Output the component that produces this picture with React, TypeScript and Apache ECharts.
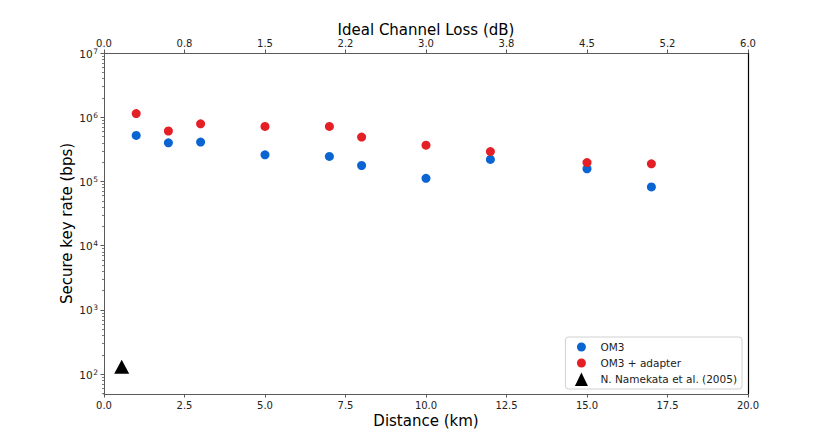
import React, { useEffect, useRef } from "react";
import * as echarts from "echarts";

// Distance (km) for each measurement
const distances = [1, 2, 3, 5, 7, 8, 10, 12, 15, 17];
// Secure key rate (bps), OM3 fibre
const om3Rates = [5.2e5, 4.0e5, 4.1e5, 2.6e5, 2.45e5, 1.77e5, 1.12e5, 2.2e5, 1.57e5, 8.2e4];
// Secure key rate (bps), OM3 + adapter
const om3AdapterRates = [1.14e6, 6.1e5, 7.9e5, 7.2e5, 7.2e5, 4.9e5, 3.67e5, 2.92e5, 1.97e5, 1.88e5];
// Reference point: N. Namekata et al. (2005)
const namekataPoint = [0.55, 130];

const seriesNames = ["OM3", "OM3 + adapter", "N. Namekata et al. (2005)"];
const topTickLabels = ["0.0", "0.8", "1.5", "2.2", "3.0", "3.8", "4.5", "5.2", "6.0"];
const yMajorTicks = [100, 1e3, 1e4, 1e5, 1e6, 1e7];
const yMajorExponents = ["2", "3", "4", "5", "6", "7"];
const yMinorTicks: number[] = [];
for (let e = 1; e < 7; e++) {
  for (let m = 2; m <= 9; m++) {
    const v = m * Math.pow(10, e);
    if (v > 49) yMinorTicks.push(v);
  }
}

const FONT = "DejaVu Sans";
const SPINE = "#5a5a5a";
const LABEL = "#222";

export default function App() {
  const ref = useRef<HTMLDivElement>(null);
  useEffect(() => {
    document.body.style.margin = "0";
    if (!ref.current) return;
    const chart = echarts.init(ref.current, undefined, { renderer: "svg" });
    const circleIcon = "path://M0,0M28,14M9.5,7a4.5,4.5 0 1,0 9,0a4.5,4.5 0 1,0 -9,0Z";
    const triIcon = "path://M0,0M28,14M7.5,14L14,0.5L20.5,14Z";
    chart.setOption({
      animation: false,
      textStyle: { fontFamily: FONT },
      grid: { left: 104, right: 82, top: 53, bottom: 49 },
      legend: {
        orient: "vertical",
        right: 88,
        bottom: 54,
        itemWidth: 28,
        itemHeight: 14,
        itemGap: 2,
        padding: [3, 5, 3, 2],
        borderColor: "#d0d0d0",
        borderWidth: 1,
        borderRadius: 3,
        backgroundColor: "rgba(255,255,255,0.8)",
        textStyle: { fontFamily: FONT, fontSize: 10.5, color: "#222" },
        data: [
          { name: seriesNames[0], icon: circleIcon },
          { name: seriesNames[1], icon: circleIcon },
          { name: seriesNames[2], icon: triIcon },
        ],
      },
      xAxis: [
        {
          type: "value",
          position: "bottom",
          min: 0,
          max: 20,
          interval: 2.5,
          name: "Distance (km)",
          nameLocation: "middle",
          nameGap: 19,
          nameMoveOverlap: false,
          nameTextStyle: { fontFamily: FONT, fontSize: 15, color: "#000" },
          axisLine: { show: true, lineStyle: { color: SPINE, width: 1 } },
          axisTick: { show: true, length: 3.5, lineStyle: { color: SPINE } },
          axisLabel: {
            margin: 6,
            fontFamily: FONT,
            fontSize: 10,
            color: LABEL,
            formatter: (v: number) => v.toFixed(1),
          },
          splitLine: { show: false },
        },
        {
          type: "value",
          position: "top",
          min: 0,
          max: 6,
          interval: 0.75,
          name: "Ideal Channel Loss (dB)",
          nameLocation: "middle",
          nameGap: 16,
          nameMoveOverlap: false,
          nameTextStyle: { fontFamily: FONT, fontSize: 15, color: "#000" },
          axisLine: { show: true, lineStyle: { color: SPINE, width: 1 } },
          axisTick: { show: true, length: 3.5, lineStyle: { color: SPINE } },
          axisLabel: {
            margin: 5,
            fontFamily: FONT,
            fontSize: 10,
            color: LABEL,
            formatter: (v: number) => topTickLabels[Math.round(v / 0.75)] ?? "",
          },
          splitLine: { show: false },
        },
      ],
      yAxis: [
        {
          type: "log",
          logBase: 10,
          min: 49,
          max: 1e7,
          position: "left",
          name: "Secure key rate (bps)",
          nameLocation: "middle",
          nameGap: 30,
          nameMoveOverlap: false,
          nameTextStyle: { fontFamily: FONT, fontSize: 15, color: "#000" },
          axisLine: { show: true, lineStyle: { color: SPINE, width: 1 } },
          axisTick: { show: true, length: 3.5, customValues: yMajorTicks, lineStyle: { color: SPINE } },
          axisLabel: {
            margin: 6,
            fontFamily: FONT,
            color: LABEL,
            customValues: yMajorTicks,
            formatter: (v: number) => {
              const i = yMajorTicks.findIndex((t) => Math.abs(t - v) / t < 1e-6);
              return i >= 0 ? `{b|10}{s|${yMajorExponents[i]}}` : "";
            },
            rich: {
              b: { fontFamily: FONT, fontSize: 10.5, color: LABEL, lineHeight: 12, verticalAlign: "bottom" },
              s: { fontFamily: FONT, fontSize: 7.5, color: LABEL, lineHeight: 8, verticalAlign: "top", padding: [0, 0, 0, 0.5] },
            },
          },
          splitLine: { show: false },
        },
        {
          type: "log",
          logBase: 10,
          min: 49,
          max: 1e7,
          position: "left",
          axisLine: { show: false },
          axisTick: { show: true, length: 2, customValues: yMinorTicks, lineStyle: { color: SPINE, width: 0.8 } },
          axisLabel: { show: false },
          splitLine: { show: false },
        },
        {
          type: "value",
          position: "right",
          min: 0,
          max: 1,
          axisLine: { show: true, lineStyle: { color: "#000", width: 1.2 } },
          axisTick: { show: false },
          axisLabel: { show: false },
          splitLine: { show: false },
        },
      ],
      series: [
        {
          name: seriesNames[0],
          type: "scatter",
          xAxisIndex: 0,
          yAxisIndex: 0,
          symbol: "circle",
          symbolSize: 9,
          itemStyle: { color: "#0a64d2", opacity: 1 },
          data: distances.map((d, i) => [d, om3Rates[i]]),
        },
        {
          name: seriesNames[1],
          type: "scatter",
          xAxisIndex: 0,
          yAxisIndex: 0,
          symbol: "circle",
          symbolSize: 9,
          itemStyle: { color: "#e41f25", opacity: 1 },
          data: distances.map((d, i) => [d, om3AdapterRates[i]]),
        },
        {
          name: seriesNames[2],
          type: "scatter",
          xAxisIndex: 0,
          yAxisIndex: 0,
          symbol: "triangle",
          symbolSize: [15, 14],
          itemStyle: { color: "#000", opacity: 1 },
          data: [namekataPoint],
        },
      ],
    });
    return () => chart.dispose();
  }, []);
  return <div ref={ref} style={{ width: 830, height: 443 }} />;
}
